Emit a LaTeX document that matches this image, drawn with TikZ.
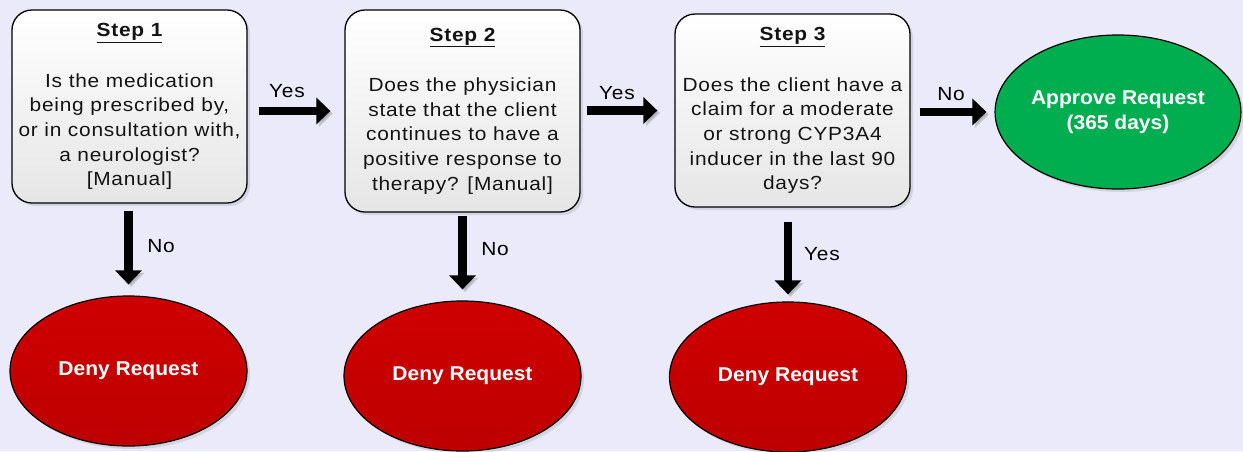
\documentclass[tikz,border=0pt]{standalone}
\usepackage{fontspec}
\setmainfont{Liberation Sans}
\newfontfamily\regfont[FakeStretch=1.1,LetterSpace=4]{Liberation Sans}
\newfontfamily\bldfont[FakeStretch=1.05]{Liberation Sans}
\usetikzlibrary{shapes.geometric,arrows.meta,shadows}

\definecolor{bg}{RGB}{234,234,250}
\definecolor{denyred}{RGB}{190,0,0}
\definecolor{denytop}{RGB}{206,0,0}
\definecolor{okgreen}{RGB}{0,174,80}

\begin{document}
\begin{tikzpicture}[x=1pt,y=-1pt,
  stepbox/.style={draw=black, line width=1.3pt, rounded corners=20pt,
    top color=white, bottom color=black!10, minimum width=235pt,
    inner sep=0pt, align=center, text=black!92,
    font=\regfont\fontsize{19}{24.6}\selectfont,
    drop shadow={opacity=.2, shadow xshift=3pt, shadow yshift=-3pt}},
  oval/.style={ellipse, draw=black, line width=1.2pt, minimum width=237pt,
    minimum height=150pt, inner sep=0pt, align=center, text=white,
    font=\bldfont\bfseries\fontsize{20}{25.5}\selectfont,
    drop shadow={opacity=.2, shadow xshift=3pt, shadow yshift=-3pt}},
  deny/.style={oval, top color=denytop, bottom color=denyred},
  approve/.style={oval, fill=okgreen},
  blockarrow/.style={black, line width=8.5pt, -{Triangle[length=14pt,width=26pt]},
    preaction={draw=black!40, opacity=.45, transform canvas={xshift=2.5pt,yshift=-2.5pt}}},
  answer/.style={font=\regfont\fontsize{19}{22}\selectfont, text=black, inner sep=0pt}
]
\useasboundingbox[fill=bg] (0,0) rectangle (1243,451);

% decision boxes
\node[stepbox, minimum height=193pt] (s1) at (129.5,106.5)
  {{\bfseries\underline{Step 1}}\\[26pt]
   Is the medication\\being prescribed by,\\or in consultation with,\\a neurologist?\\{[Manual]}};
\node[stepbox, minimum height=202pt] (s2) at (462.5,111)
  {{\bfseries\underline{Step 2}}\\[26pt]
   Does the physician\\state that the client\\continues to have a\\positive response to\\therapy? [Manual]};
\node[stepbox, minimum height=193pt] (s3) at (792.5,110.5)
  {{\bfseries\underline{Step 3}}\\[26pt]
   Does the client have a\\claim for a moderate\\or strong CYP3A4\\inducer in the last 90\\days?};

% outcomes
\node[approve, minimum height=154pt] (ok) at (1118,112) {Approve Request\\(365 days)};
\node[deny] (no1) at (128.5,371) {Deny Request};
\node[deny] (no2) at (462.5,376) {Deny Request};
\node[deny] (no3) at (788,377) {Deny Request};

% connectors
\draw[blockarrow] ([xshift=11pt]s1.east |- s2.west) -- ([xshift=-14pt]s2.west);
\draw[blockarrow] ([xshift=6pt]s2.east |- s3.west) -- ([xshift=-17pt]s3.west);
\draw[blockarrow] ([xshift=9pt]s3.east |- ok.west) -- ([xshift=-8pt]ok.west);
\draw[blockarrow] ([yshift=-7pt]s1.south -| no1.north) -- ([yshift=11pt]no1.north);
\draw[blockarrow] ([yshift=-3pt]s2.south -| no2.north) -- ([yshift=11pt]no2.north);
\draw[blockarrow] ([yshift=-14pt]s3.south -| no3.north) -- ([yshift=7pt]no3.north);

% answers
\node[answer] (y1) at (287,91.5) {Yes};
\node[answer] (y2) at (617,93) {Yes};
\node[answer] (n3) at (951,94) {No};
\node[answer] (n1) at (161,246) {No};
\node[answer] (n2) at (495,249) {No};
\node[answer] (y3) at (822,254.5) {Yes};
\end{tikzpicture}
\end{document}
